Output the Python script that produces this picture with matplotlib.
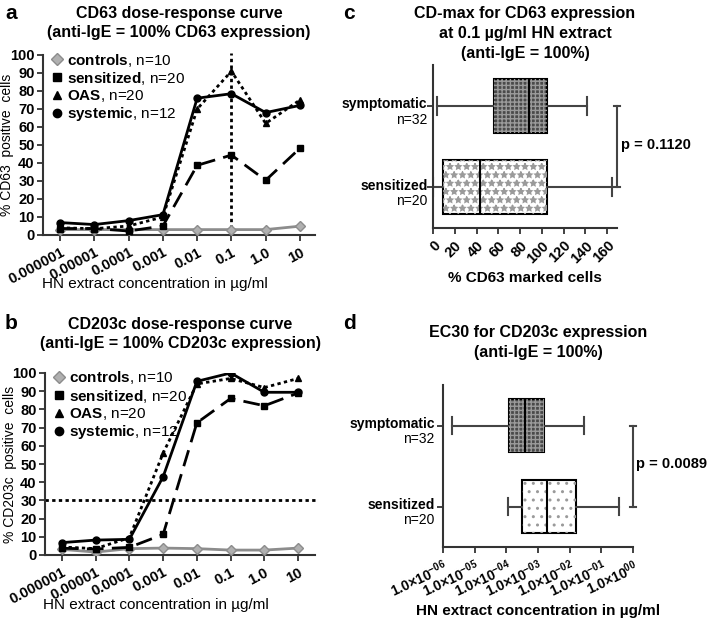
import numpy as np
import matplotlib
matplotlib.use('Agg')
import matplotlib.pyplot as plt
from matplotlib.lines import Line2D
from matplotlib.patches import Rectangle

plt.rcParams['font.family'] = ['Liberation Sans', 'DejaVu Sans']
plt.rcParams['mathtext.fontset'] = 'custom'
plt.rcParams['mathtext.rm'] = 'Liberation Sans'
plt.rcParams['mathtext.bf'] = 'Liberation Sans:bold'
plt.rcParams['hatch.linewidth'] = 1.0

# --- data: dose-response curves ---
conc_labels = ['0.000001', '0.00001', '0.0001', '0.001', '0.01', '0.1', '1.0', '10']
groups = ['controls', 'sensitized', 'OAS', 'systemic']
group_n = [10, 20, 20, 12]

cd63_controls = [3, 3, 3, 3, 3, 3, 3, 4.9]
cd63_sensitized = [3.6, 3.6, 2.2, 5, 38.7, 44.4, 30.4, 48.2]
cd63_oas = [4, 3.5, 5, 10, 70, 91, 62, 75]
cd63_systemic = [6.9, 5.8, 8, 11.3, 76, 78.5, 68, 72]

cd203_controls = [3.1, 1.6, 3.5, 3.8, 3.5, 2.7, 2.7, 3.8]
cd203_sensitized = [3.7, 3.3, 4.2, 11.3, 72.6, 86, 82, 89]
cd203_oas = [4.4, 3.5, 9.5, 56, 94, 97, 92, 97]
cd203_systemic = [6.8, 8.2, 8.6, 43, 95.4, 100, 89.4, 89.4]

# --- data: box plots ---
box_groups = ['symptomatic', 'sensitized']
box_n = [32, 20]
# CD-max (% CD63 marked cells): whislo, q1, median, q3, whishi
cdmax_symptomatic = [3.7, 56, 88, 105, 141.5]
cdmax_sensitized = [0, 9, 43, 105, 164]
# EC30 (µg/ml)
ec30_symptomatic = [1.95e-6, 1.2e-4, 4.0e-4, 1.55e-3, 2.75e-2]
ec30_sensitized = [1.12e-4, 3.2e-4, 1.9e-3, 1.6e-2, 3.6e-1]

styles = {
    'controls': dict(color='#8c8c8c', ls='-', marker='D', ms=5, mfc='#b0b0b0', mec='#8c8c8c'),
    'sensitized': dict(color='black', ls=(0, (6, 3)), marker='s', ms=5, mfc='black', mec='black'),
    'OAS': dict(color='black', ls=(0, (1.2, 1.2)), marker='^', ms=5, mfc='black', mec='black'),
    'systemic': dict(color='black', ls='-', marker='o', ms=5, mfc='black', mec='black'),
}

W, H = 709, 620
fig = plt.figure(figsize=(W / 100, H / 100), dpi=100)


def ax_px(l, r, t, b):
    return fig.add_axes([l / W, 1 - b / H, (r - l) / W, (b - t) / H])


def style_axes(ax):
    for s in ['top', 'right']:
        ax.spines[s].set_visible(False)
    for s in ['left', 'bottom']:
        ax.spines[s].set_linewidth(1.5)
        ax.spines[s].set_color('#333333')
    ax.tick_params(direction='out', length=4, width=1.3, color='#333333')


def dose_panel(ax, series, title, ylabel, xlim, title_pad):
    x = np.arange(len(conc_labels))
    for name, vals in zip(groups, series):
        st = styles[name]
        ax.plot(x, vals, color=st['color'], ls=st['ls'], lw=2, marker=st['marker'],
                ms=st['ms'], mfc=st['mfc'], mec=st['mec'], zorder=3)
    style_axes(ax)
    ax.set_ylim(0, 100)
    ax.set_xlim(*xlim)
    ax.set_yticks(np.arange(0, 101, 10))
    ax.set_xticks(x)
    ax.set_xticklabels(conc_labels, rotation=28, ha='right', rotation_mode='anchor',
                       fontweight='bold', fontsize=10.5)
    for lb in ax.get_yticklabels():
        lb.set_fontweight('bold')
        lb.set_fontsize(10.5)
    ax.tick_params(axis='y', pad=2)
    ax.set_ylabel(ylabel, fontsize=10)
    ax.yaxis.set_label_coords(-0.105, 0.5)
    ax.set_xlabel('HN extract concentration in µg/ml', fontsize=11)
    ax.xaxis.set_label_coords(0.41, -0.235)
    ax.set_title(title, fontweight='bold', fontsize=11.5, pad=title_pad, linespacing=1.35)
    handles = [Line2D([], [], ls='none', marker=styles[g]['marker'], ms=6,
                      mfc=styles[g]['mfc'], mec=styles[g]['mec']) for g in groups]
    labels = [r'$\mathbf{%s}$, n=%d' % (g, n) for g, n in zip(groups, group_n)]
    ax.legend(handles, labels, loc='upper left', bbox_to_anchor=(0.0, 1.07), frameon=False,
              fontsize=11, handlelength=0.6, handletextpad=0.4, labelspacing=0.08,
              borderaxespad=0.2)


def box_panel(ax, stats, hatches, title, xlabel, title_pad, label_off, ptext, px):
    bx = []
    for s in stats:
        bx.append(dict(whislo=s[0], q1=s[1], med=s[2], q3=s[3], whishi=s[4], fliers=[]))
    pos = [2, 1]
    art = ax.bxp(bx, positions=pos, widths=0.66, orientation='horizontal',
                 patch_artist=True, showfliers=False, manage_ticks=False,
                 boxprops=dict(edgecolor='black', linewidth=1.5),
                 medianprops=dict(color='black', linewidth=1.5),
                 whiskerprops=dict(color='#444444', linewidth=1.5),
                 capprops=dict(color='#444444', linewidth=1.5),
                 capwidths=0.22)
    for i, patch in enumerate(art['boxes']):
        fc, hc, hatch = hatches[i]
        s = stats[i]
        p = pos[i]
        patch.set_facecolor(fc)
        patch.set_zorder(2)
        ax.add_patch(Rectangle((s[1], p - 0.33), s[3] - s[1], 0.66, fill=False,
                               hatch=hatch, edgecolor=hc, linewidth=0, zorder=2.5))
    for m in art['medians']:
        m.set_zorder(3)
    style_axes(ax)
    ax.set_ylim(0.5, 2.5)
    ax.set_yticks(pos)
    ax.set_yticklabels([])
    for g, n, p in zip(box_groups, box_n, pos):
        ax.annotate(g, xy=(0, p), xycoords=('axes fraction', 'data'), xytext=(-label_off, 1),
                    textcoords='offset points', ha='right', va='center',
                    fontweight='bold', fontsize=10)
        ax.annotate('n=%d' % n, xy=(0, p), xycoords=('axes fraction', 'data'),
                    xytext=(-label_off, -10), textcoords='offset points', ha='right',
                    va='center', fontsize=10)
    ax.set_title(title, fontweight='bold', fontsize=11.5, pad=title_pad, linespacing=1.4)
    ax.set_xlabel(xlabel, fontweight='bold', fontsize=11)
    # significance bracket
    tr = ax.get_yaxis_transform()
    ax.plot([1.0, 1.0], [1, 2], color='#444444', lw=1.5, transform=tr, clip_on=False)
    for yy in [1, 2]:
        ax.plot([0.985, 1.015], [yy, yy], color='#444444', lw=1.5, transform=tr, clip_on=False)
    ax.text(px, 1.52, ptext, transform=tr, ha='left', va='center',
            fontweight='bold', fontsize=10.5)


# panel a
ax_a = ax_px(43, 315, 55, 235)
dose_panel(ax_a, [cd63_controls, cd63_sensitized, cd63_oas, cd63_systemic],
           'CD63 dose-response curve\n(anti-IgE = 100% CD63 expression)',
           '% CD63  positive  cells', (-0.5, 7.44), 13)
ax_a.axvline(5, ymin=0, ymax=1.01, color='black', ls=(0, (1.2, 1.2)), lw=2, zorder=2,
             clip_on=False)

# panel b
ax_b = ax_px(45, 315, 373, 555)
dose_panel(ax_b, [cd203_controls, cd203_sensitized, cd203_oas, cd203_systemic],
           'CD203c dose-response curve\n(anti-IgE = 100% CD203c expression)',
           '% CD203c  positive  cells', (-0.5, 7.5), 18)
ax_b.axhline(30, xmin=0, xmax=1.01, color='black', ls=(0, (1.2, 1.2)), lw=2, zorder=2,
             clip_on=False)

# panel c
ax_c = ax_px(433, 617, 65, 228)
box_panel(ax_c, [cdmax_symptomatic, cdmax_sensitized],
          [('#4a4a4a', '#9a9a9a', '++++'), ('white', '#9a9a9a', '**')],
          'CD-max for CD63 expression\nat 0.1 µg/ml HN extract\n(anti-IgE = 100%)',
          '% CD63 marked cells', 5, 4, 'p = 0.1120', 1.02)
ax_c.set_xlim(0, 169)
ax_c.set_xticks(np.arange(0, 161, 20))
ax_c.set_xticklabels([str(v) for v in range(0, 161, 20)], rotation=45, ha='right',
                     rotation_mode='anchor', fontweight='bold', fontsize=10.5)
ax_c.xaxis.labelpad = 4

# panel d
ax_d = ax_px(443, 633, 385, 547)
ax_d.set_xscale('log')
box_panel(ax_d, [ec30_symptomatic, ec30_sensitized],
          [('#4a4a4a', '#9a9a9a', '++++'), ('white', '#9a9a9a', '..')],
          'EC30 for CD203c expression\n(anti-IgE = 100%)',
          'HN extract concentration in µg/ml', 20, 6, 'p = 0.0089', 1.015)
ax_d.set_xlim(1e-6, 1e0)
dticks = [1e-6, 1e-5, 1e-4, 1e-3, 1e-2, 1e-1, 1e0]
dexp = ['-06', '-05', '-04', '-03', '-02', '-01', '00']
ax_d.set_xticks(dticks)
ax_d.set_xticklabels([r'$\mathbf{1.0{\times}10^{%s}}$' % e for e in dexp], rotation=25,
                     ha='right', rotation_mode='anchor', fontsize=10)
ax_d.minorticks_off()
ax_d.xaxis.labelpad = 3

for lbl, x, y in [('a', 5, 4), ('b', 5, 314), ('c', 343, 4), ('d', 343, 314)]:
    fig.text(x / W, 1 - y / H, lbl, fontsize=15, fontweight='bold', ha='left', va='top')

fig.savefig('out.png', dpi=100)
